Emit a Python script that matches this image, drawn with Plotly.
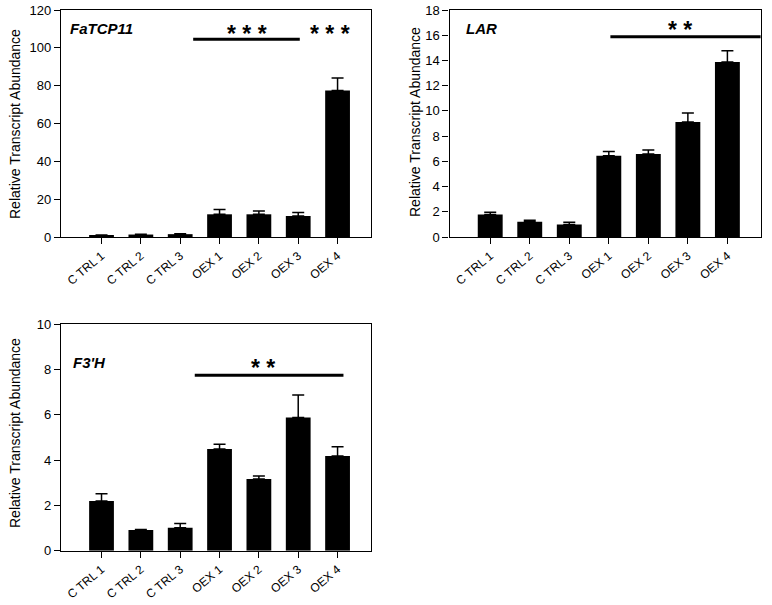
import plotly.graph_objects as go

categories = ["C TRL 1", "C TRL 2", "C TRL 3", "OEX 1", "OEX 2", "OEX 3", "OEX 4"]

fatcp11_values = [0.8, 1.3, 1.5, 12.0, 12.0, 11.1, 77.4]
fatcp11_errors = [0.2, 0.2, 0.2, 2.6, 1.7, 1.8, 6.6]

lar_values = [1.79, 1.20, 0.99, 6.45, 6.59, 9.12, 13.87]
lar_errors = [0.18, 0.13, 0.18, 0.32, 0.31, 0.72, 0.90]

f3h_values = [2.19, 0.91, 1.01, 4.49, 3.16, 5.88, 4.18]
f3h_errors = [0.32, 0.03, 0.19, 0.21, 0.14, 0.99, 0.41]

gene_labels = ["FaTCP11", "LAR", "F3'H"]
y_title = "Relative Transcript Abundance"

W, H = 772, 605
FONT = "Liberation Sans, Arial, sans-serif"

def px_x(p):
    return p / W

def px_y(p):
    return 1 - p / H

fig = go.Figure()

panels = [
    dict(vals=fatcp11_values, errs=fatcp11_errors, ax="", xdom=(61, 371), ydom=(10, 237),
         yrange=[0, 120], dtick=20),
    dict(vals=lar_values, errs=lar_errors, ax="2", xdom=(449.5, 761), ydom=(10, 237),
         yrange=[0, 18], dtick=2),
    dict(vals=f3h_values, errs=f3h_errors, ax="3", xdom=(61, 371), ydom=(324, 550.7),
         yrange=[0, 10], dtick=2),
]

for p in panels:
    fig.add_trace(go.Bar(
        x=categories, y=p["vals"],
        xaxis="x" + p["ax"], yaxis="y" + p["ax"],
        marker=dict(color="black", line=dict(width=0)),
        width=0.63,
        error_y=dict(type="data", array=p["errs"], arrayminus=[0] * len(p["errs"]),
                     symmetric=False, color="black", thickness=1.5, width=6),
        showlegend=False,
    ))
    axis_common = dict(showline=True, linecolor="black", linewidth=1.2, mirror=True,
                       ticks="outside", ticklen=6, tickcolor="black", tickwidth=1.2,
                       showgrid=False, zeroline=False, automargin=False,
                       tickfont=dict(family=FONT, size=13, color="black"))
    fig.layout["xaxis" + p["ax"]] = dict(
        axis_common, domain=[px_x(p["xdom"][0]), px_x(p["xdom"][1])],
        anchor="y" + p["ax"], type="category", range=[-1.03, 6.85], tickangle=-40,
        tickfont=dict(family=FONT, size=12, color="black"))
    fig.layout["yaxis" + p["ax"]] = dict(
        axis_common, domain=[px_y(p["ydom"][1]), px_y(p["ydom"][0])],
        anchor="x" + p["ax"], range=p["yrange"], dtick=p["dtick"])

# significance bars
sig = [
    dict(ax="", x0=2.33, x1=5.04, y=104.6),
    dict(ax="2", x0=3.04, x1=6.84, y=15.87),
    dict(ax="3", x0=2.37, x1=6.15, y=7.74),
]
for s in sig:
    fig.add_shape(type="line", xref="x" + s["ax"], yref="y" + s["ax"],
                  x0=s["x0"], x1=s["x1"], y0=s["y"], y1=s["y"],
                  line=dict(color="black", width=3))

stars = [
    dict(ax="", x=3.7, y=107.3, t="* * *"),
    dict(ax="", x=5.8, y=107.3, t="* * *"),
    dict(ax="2", x=4.8, y=16.4, t="* *"),
    dict(ax="3", x=4.1, y=8.05, t="* *"),
]
for s in stars:
    fig.add_annotation(xref="x" + s["ax"], yref="y" + s["ax"], x=s["x"], y=s["y"],
                       text="<b>%s</b>" % s["t"], showarrow=False,
                       font=dict(family=FONT, size=23, color="black"))

# gene labels
label_pos = [(68, 28), (464, 28), (71, 362)]
for lbl, (lx, ly) in zip(gene_labels, label_pos):
    fig.add_annotation(xref="paper", yref="paper", x=px_x(lx), y=px_y(ly),
                       xanchor="left", yanchor="middle", showarrow=False,
                       text="<b><i>%s</i></b>" % lbl,
                       font=dict(family=FONT, size=15, color="black"))

# y-axis titles
title_pos = [(15, 124), (415, 122), (15, 433)]
for tx, ty in title_pos:
    fig.add_annotation(xref="paper", yref="paper", x=px_x(tx), y=px_y(ty),
                       xanchor="center", yanchor="middle", showarrow=False,
                       text=y_title, textangle=-90,
                       font=dict(family=FONT, size=14, color="black"))

fig.update_layout(
    width=W, height=H,
    margin=dict(l=0, r=0, t=0, b=0),
    paper_bgcolor="white", plot_bgcolor="white",
    font=dict(family=FONT, color="black"),
)

fig.write_html("out.html",
               config={"displayModeBar": False},
               post_script="document.body.style.margin='0';document.body.style.overflow='hidden';")
